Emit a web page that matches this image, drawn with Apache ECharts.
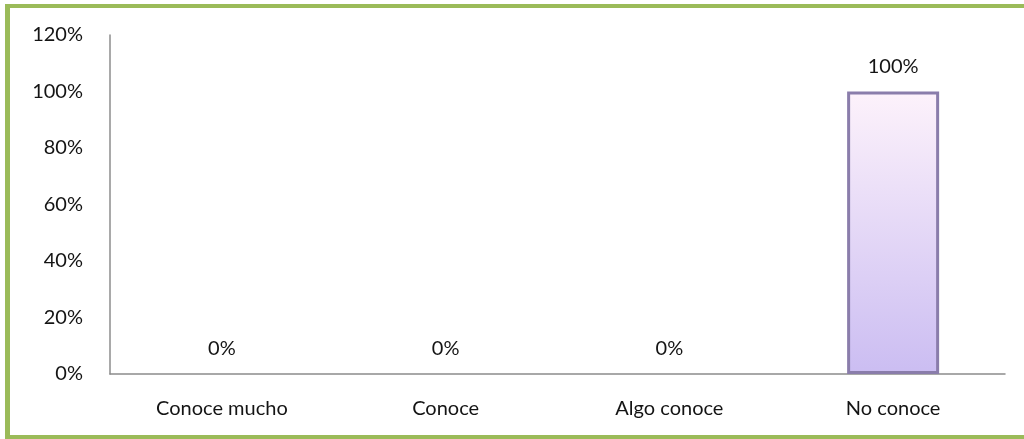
<!DOCTYPE html>
<html>
<head>
<meta charset="utf-8">
<script src="https://cdn.jsdelivr.net/npm/echarts@6/dist/echarts.min.js"></script>
<style>
  html, body { margin: 0; padding: 0; background: #fff; overflow: hidden; width: 1024px; height: 439px; }
  .edge { position: absolute; background: #9bbb59; }
  #chart { position: absolute; left: 0; top: 0; width: 1024px; height: 439px; }
</style>
</head>
<body>
<div class="edge" style="left:5px;top:4px;width:1019px;height:4px"></div>
<div class="edge" style="left:5px;top:4px;width:5px;height:435px"></div>
<div class="edge" style="left:5px;top:435px;width:1019px;height:4px"></div>
<div id="chart"></div>
<script>
const categories = ['Conoce mucho', 'Conoce', 'Algo conoce', 'No conoce'];
const values = [0, 0, 0, 100];
const yTicks = [0, 20, 40, 60, 80, 100, 120];

const textStyle = { color: '#141414', fontFamily: 'Lato', fontSize: 20 };

const chart = echarts.init(document.getElementById('chart'));
chart.setOption({
  animation: false,
  grid: { left: 110, right: 19, top: 35, bottom: 65 },
  xAxis: {
    type: 'category',
    data: categories,
    axisLine: { lineStyle: { color: '#8c8c8c', width: 1.5 } },
    axisTick: { show: false },
    axisLabel: Object.assign({ margin: 25 }, textStyle)
  },
  yAxis: {
    type: 'value',
    min: yTicks[0],
    max: yTicks[yTicks.length - 1],
    interval: 20,
    axisLine: { show: true, lineStyle: { color: '#8c8c8c', width: 1.5 } },
    axisTick: { show: false },
    splitLine: { show: false },
    axisLabel: Object.assign({ margin: 27, formatter: '{value}%' }, textStyle)
  },
  series: [{
    type: 'bar',
    data: values.map(v => ({ value: v, itemStyle: { borderWidth: v ? 3 : 0 } })),
    barWidth: 92,
    itemStyle: {
      color: new echarts.graphic.LinearGradient(0, 0, 0, 1, [
        { offset: 0, color: '#fdf2fb' },
        { offset: 1, color: '#cbbdf2' }
      ]),
      borderColor: '#8a7dab'
    },
    label: Object.assign({ show: true, position: 'top', distance: 15, formatter: '{c}%' }, textStyle)
  }]
});
</script>
</body>
</html>
